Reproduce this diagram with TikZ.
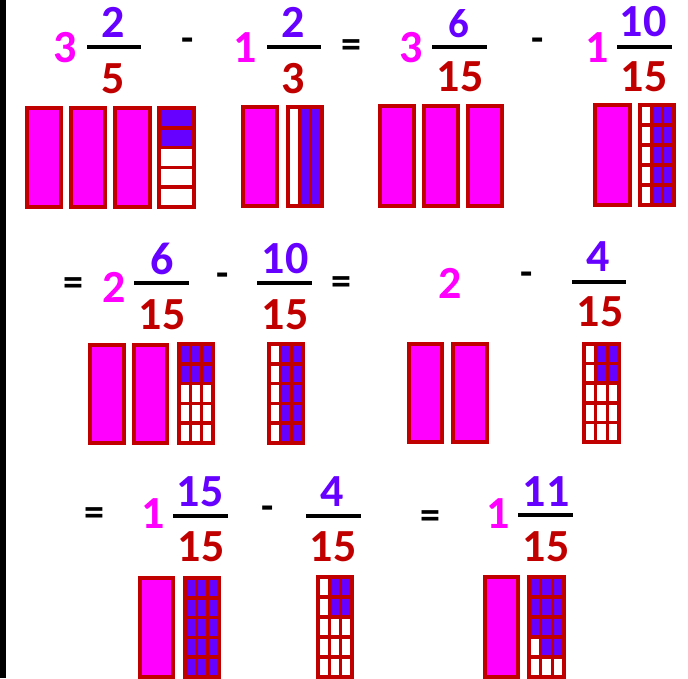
\documentclass[tikz,border=0pt]{standalone}
\usepackage{fontspec}
\setmainfont{Carlito}
\definecolor{mag}{HTML}{FF00FF}
\definecolor{purp}{HTML}{6600FF}
\definecolor{dred}{HTML}{C00000}
\tikzset{
  whole/.style={text=mag,font=\bfseries\fontsize{46}{46}\selectfont,inner sep=0pt},
  numer/.style={text=purp,font=\bfseries\fontsize{46}{46}\selectfont,inner sep=0pt},
  denom/.style={text=dred,font=\bfseries\fontsize{46}{46}\selectfont,inner sep=0pt},
  oper/.style={text=black,font=\bfseries\fontsize{40}{40}\selectfont,inner sep=0pt},
  fbar/.style={line width=4pt,black},
  pinkbox/.style={fill=mag,draw=dred,line width=4pt},
  gline/.style={draw=dred,line width=3.6pt},
  gouter/.style={draw=dred,line width=4pt}
}
% outer coords: #1 x0 #2 y0 #3 x1 #4 y1 #5 cols #6 rows #7 purple cells c/r
\newcommand\cellbox[7]{%
  \pgfmathsetmacro\xa{#1+2}\pgfmathsetmacro\ya{#2+2}%
  \pgfmathsetmacro\xb{#3-2}\pgfmathsetmacro\yb{#4-2}%
  \fill[white] (\xa,\ya) rectangle (\xb,\yb);
  \foreach \cc/\rr in {#7} {%
    \fill[purp] ({\xa+(\cc-1)*(\xb-\xa)/#5},{\ya+(\rr-1)*(\yb-\ya)/#6}) rectangle ({\xa+\cc*(\xb-\xa)/#5},{\ya+\rr*(\yb-\ya)/#6});}
  \ifnum#5>1
    \pgfmathtruncatemacro\ncl{#5-1}%
    \foreach \ii in {1,...,\ncl} {\draw[gline] ({\xa+\ii*(\xb-\xa)/#5},\ya) -- ({\xa+\ii*(\xb-\xa)/#5},\yb);}
  \fi
  \ifnum#6>1
    \pgfmathtruncatemacro\nrl{#6-1}%
    \foreach \ii in {1,...,\nrl} {\draw[gline] (\xa,{\ya+\ii*(\yb-\ya)/#6}) -- (\xb,{\ya+\ii*(\yb-\ya)/#6});}
  \fi
  \draw[gouter] (\xa,\ya) rectangle (\xb,\yb);
}
\newcommand\pbox[4]{\draw[pinkbox] ({#1+2},{#2+2}) rectangle ({#3-2},{#4-2});}
\begin{document}
\begin{tikzpicture}[x=1pt,y=-1pt]
\useasboundingbox (0,0) rectangle (688,678);
\fill[white] (0,0) rectangle (688,678);
\fill[black] (0,0) rectangle (6,678);

% ---------- top row text ----------
\node[whole] (w1) at (65,48) {3};
\node[numer] (n1) at (113,22) {2};
\draw[fbar] (87,47) -- (141,47);
\node[denom] (d1) at (113,79) {5};
\node[oper] (m1) at (188,45) {-};
\node[whole] (w2) at (245,48) {1};
\node[numer] (n2) at (293,22) {2};
\draw[fbar] (267,47) -- (321,47);
\node[denom] (d2) at (293,79) {3};
\node[oper] (e1) at (351,49) {=};
\node[whole] (w3) at (411,48) {3};
\node[numer,font=\bfseries\fontsize{41}{41}\selectfont] (n3) at (459,24) {6};
\draw[fbar] (432,47) -- (487,47);
\node[denom] (d3) at (460,77) {15};
\node[oper] (m2) at (538,45) {-};
\node[whole] (w4) at (597,48) {1};
\node[numer] (n4) at (643,22) {10};
\draw[fbar] (617,47) -- (672,47);
\node[denom] (d4) at (644,77) {15};

% ---------- top row boxes ----------
\pbox{25}{106}{63}{209}
\pbox{69}{106}{107}{209}
\pbox{113}{106}{152}{209}
\cellbox{157}{106}{196}{209}{1}{5}{1/1,1/2}
\pbox{241}{105}{279}{208}
\cellbox{286}{105}{324}{208}{3}{1}{2/1,3/1}
\pbox{378}{104}{416}{208}
\pbox{422}{104}{460}{208}
\pbox{466}{104}{504}{208}
\pbox{593}{103}{632}{207}
\cellbox{638}{103}{676}{207}{3}{5}{2/1,3/1,2/2,3/2,2/3,3/3,2/4,3/4,2/5,3/5}

% ---------- middle row text ----------
\node[oper] (e2) at (73,287) {=};
\node[whole] (w5) at (114,287) {2};
\node[numer] (n5) at (162,259) {6};
\draw[fbar] (134,283) -- (189,283);
\node[denom] (d5) at (162,315) {15};
\node[oper] (m3) at (223,280) {-};
\node[numer] (n6) at (285,259) {10};
\draw[fbar] (257,283) -- (312,283);
\node[denom] (d6) at (285,315) {15};
\node[oper] (e3) at (341,286) {=};
\node[whole] (w6) at (450,283) {2};
\node[oper] (m4) at (527,279) {-};
\node[numer] (n7) at (598,257) {4};
\draw[fbar] (572,282) -- (626,282);
\node[denom] (d7) at (600,312) {15};

% ---------- middle row boxes ----------
\pbox{88}{343}{126}{445}
\pbox{132}{343}{169}{445}
\cellbox{177}{342}{215}{445}{3}{5}{1/1,2/1,3/1,1/2,2/2,3/2}
\cellbox{267}{342}{305}{445}{3}{5}{2/1,3/1,2/2,3/2,2/3,3/3,2/4,3/4,2/5,3/5}
\pbox{407}{342}{444}{444}
\pbox{451}{342}{489}{444}
\cellbox{582}{342}{621}{444}{3}{5}{2/1,3/1,2/2,3/2}

% ---------- bottom row text ----------
\node[oper] (e4) at (94,517) {=};
\node[whole] (w7) at (153,514) {1};
\node[numer] (n8) at (200,492) {15};
\draw[fbar] (173,516) -- (228,516);
\node[denom] (d8) at (201,547) {15};
\node[oper] (m5) at (268,513) {-};
\node[numer] (n9) at (332,492) {4};
\draw[fbar] (306,516) -- (361,516);
\node[denom] (d9) at (333,547) {15};
\node[oper] (e5) at (430,520) {=};
\node[whole] (w8) at (498,514) {1};
\node[numer] (n10) at (546,492) {11};
\draw[fbar] (518,515) -- (573,515);
\node[denom] (d10) at (546,547) {15};

% ---------- bottom row boxes ----------
\pbox{138}{576}{175}{679}
\cellbox{183}{576}{221}{679}{3}{5}{1/1,2/1,3/1,1/2,2/2,3/2,1/3,2/3,3/3,1/4,2/4,3/4,1/5,2/5,3/5}
\cellbox{316}{575}{354}{679}{3}{5}{2/1,3/1,2/2,3/2}
\pbox{483}{575}{520}{679}
\cellbox{527}{575}{566}{679}{3}{5}{1/1,2/1,3/1,1/2,2/2,3/2,1/3,2/3,3/3,2/4,3/4}
\end{tikzpicture}
\end{document}
